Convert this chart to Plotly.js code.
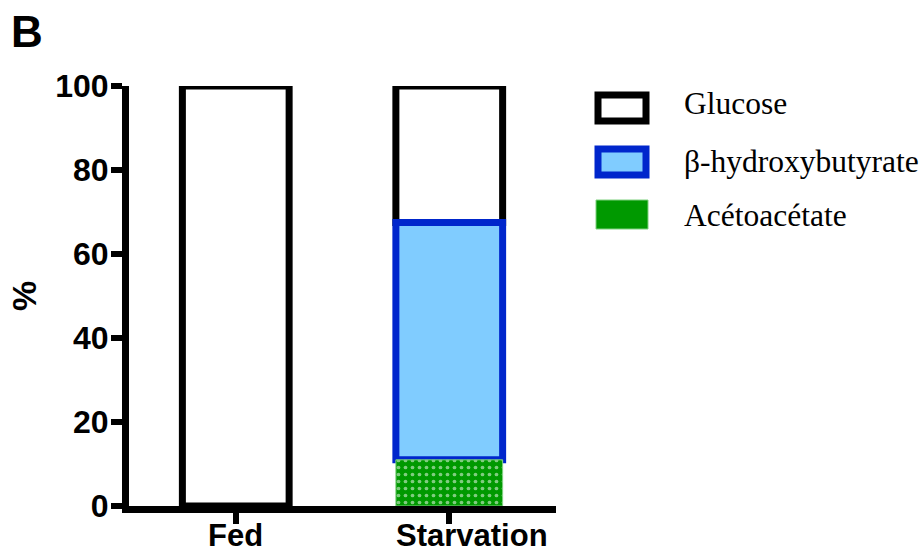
<!DOCTYPE html>
<html>
<head>
<meta charset="utf-8">
<script src="https://cdn.plot.ly/plotly-3.0.1.min.js"></script>
<style>html,body{margin:0;padding:0;background:#fff;}#chart{width:923px;height:555px;}</style>
</head>
<body>
<div id="chart"></div>
<script>
var categories = ["Fed", "Starvation"];
var glucose = [100, 32.5];
var hydroxybutyrate = [null, 56.5];
var acetoacetate = [null, 11];
var seriesNames = ["Glucose", "β-hydroxybutyrate", "Acétoacétate"];
var yTicks = [0, 20, 40, 60, 80, 100];

function num(v){ return v == null ? 0 : v; }
var baseGlucose = categories.map(function(c,i){ return num(acetoacetate[i]) + num(hydroxybutyrate[i]); });
var baseHB = categories.map(function(c,i){ return num(acetoacetate[i]); });

var W = 923, H = 555, L = 129, R = 556, T = 86, B = 506;
function px(x){ return (x - L) / (R - L); }
function py(y){ return (B - y) / (B - T); }

var traces = [
  {type:'bar', x:categories, y:glucose, base:baseGlucose, name:seriesNames[0], width:0.5,
   marker:{color:'#ffffff', line:{color:'#000000', width:7}}, cliponaxis:false, showlegend:false},
  {type:'bar', x:categories, y:hydroxybutyrate, base:baseHB, name:seriesNames[1], width:0.5,
   marker:{color:'#80ccff', line:{color:'#0026cc', width:7}}, cliponaxis:false, showlegend:false},
  {type:'bar', x:categories, y:acetoacetate, name:seriesNames[2], width:0.5,
   marker:{color:'#009900', line:{color:'#7fd07f', width:1},
     pattern:{shape:'.', fgcolor:'#ffffff', bgcolor:'#009900', size:7, solidity:0.22, fillmode:'overlay'}},
   cliponaxis:false, showlegend:false}
];

var legendBoxes = [
  {x0:598, x1:646, y0:95, y1:121, fill:'#ffffff', line:'#000000', w:7},
  {x0:598, x1:646, y0:149, y1:175, fill:'#80ccff', line:'#0026cc', w:7},
  {x0:596, x1:648, y0:200, y1:229, fill:'#009900', line:'#7fd07f', w:1}
];
var legendTextY = [104, 161, 215];
var xLabelShift = [0, 23];

var shapes = legendBoxes.map(function(b){
  return {type:'rect', xref:'paper', yref:'paper', x0:px(b.x0), x1:px(b.x1), y0:py(b.y0), y1:py(b.y1),
    fillcolor:b.fill, line:{color:b.line, width:b.w}};
});
var annotations = seriesNames.map(function(n,i){
  return {xref:'paper', yref:'paper', x:px(682), y:py(legendTextY[i]), xanchor:'left', yanchor:'middle',
    text:n, showarrow:false, font:{family:'Liberation Serif, Times New Roman, serif', size:31.5, color:'#000'}};
});
categories.forEach(function(c,i){
  annotations.push({xref:'x', yref:'paper', x:c, xshift:xLabelShift[i], y:py(535), xanchor:'center', yanchor:'middle',
    text:c, showarrow:false, borderpad:0,
    font:{family:'Liberation Sans, Arial, sans-serif', size:31, weight:'bold', color:'#000'}});
});
annotations.push({xref:'paper', yref:'paper', x:px(9), y:py(5), xanchor:'left', yanchor:'top',
  text:'B', showarrow:false, font:{family:'Liberation Sans, Arial, sans-serif', size:44, weight:'bold', color:'#000'}});

var layout = {
  width:W, height:H,
  margin:{l:L, r:W-R, t:T, b:H-B, pad:0},
  paper_bgcolor:'#fff', plot_bgcolor:'#fff',
  barmode:'overlay',
  showlegend:false,
  xaxis:{type:'category', range:[-0.5,1.5], showgrid:false, zeroline:false,
    showline:true, linecolor:'#000', linewidth:7, showticklabels:false,
    ticks:'outside', ticklen:11, tickwidth:6, tickcolor:'#000'},
  yaxis:{range:[0,100], tickvals:yTicks, showgrid:false, zeroline:false,
    showline:true, linecolor:'#000', linewidth:7,
    ticks:'outside', ticklen:11, tickwidth:6, tickcolor:'#000', ticklabelstandoff:-4,
    tickfont:{family:'Liberation Sans, Arial, sans-serif', size:32, weight:'bold', color:'#000'},
    title:{text:'%', standoff:11, font:{family:'Liberation Sans, Arial, sans-serif', size:34, weight:'bold', color:'#000'}}},
  shapes:shapes,
  annotations:annotations
};

Plotly.newPlot('chart', traces, layout, {staticPlot:true, displayModeBar:false});
</script>
</body>
</html>
